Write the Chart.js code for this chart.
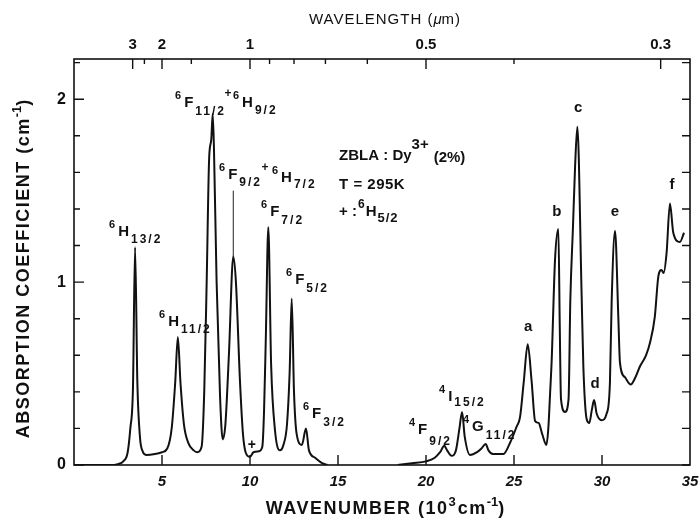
<!DOCTYPE html>
<html>
<head>
<meta charset="utf-8">
<script src="https://cdn.jsdelivr.net/npm/chart.js@4.4.1/dist/chart.umd.min.js"></script>
<style>
  html, body { margin: 0; padding: 0; background: #fff; }
  #wrap { width: 699px; height: 524px; }
</style>
</head>
<body>
<div id="wrap"><canvas id="spectrum" width="699" height="524"></canvas></div>
<script>
// ZBLA:Dy3+ (2%) absorption spectrum, T = 295 K
// wavenumber in 10^3 cm^-1, absorption coefficient in cm^-1 (null = gap in the record)
const wavenumber = [
    0, 1, 2, 2.5, 2.8, 3.05, 3.2, 3.35, 3.47, 3.6, 3.75, 3.9, 4.1, 4.6, 5.0, 5.3,
    5.55, 5.75, 5.9, 6.05, 6.25, 6.5, 6.8, 7.0, 7.25, 7.4, 7.54, 7.68, 7.8, 7.88,
    7.95, 8.1, 8.3, 8.45, 8.6, 8.8, 9.05, 9.2, 9.43, 9.6, 9.75, 10.0, 10.2, 10.5,
    10.7, 10.8, 10.9, 11.04, 11.2, 11.42, 11.7, 11.9, 12.1, 12.25, 12.37, 12.5,
    12.65, 12.95, 13.18, 13.35, 13.7, 14.1, 14.4,
    16.5,
    18.4, 19.2, 20.0, 20.5, 20.8, 21.04, 21.2, 21.45, 21.7, 21.9, 22.05, 22.2,
    22.5, 22.9, 23.15, 23.39, 23.55, 23.8, 24.4, 24.77, 25.15, 25.34, 25.55,
    25.78, 26.0, 26.2, 26.4, 26.6, 26.84, 26.95, 27.05, 27.14, 27.33, 27.52,
    27.6, 27.67, 27.9, 28.1, 28.2, 28.35, 28.47, 28.6, 28.84, 28.94, 29.13,
    29.28, 29.42, 29.55, 29.7, 29.98, 30.26, 30.45, 30.55, 30.74, 30.93, 31.02,
    31.3, 31.63, 31.9, 32.16, 32.5, 32.73, 33.0, 33.2, 33.38, 33.5, 33.67,
    33.86, 34.05, 34.43, 34.66
];
const absorption = [
    0, 0, 0, 0.005, 0.02, 0.07, 0.2, 0.42, 1.19, 0.45, 0.15, 0.075, 0.055, 0.06, 0.07, 0.09,
    0.2, 0.45, 0.70, 0.45, 0.22, 0.12, 0.08, 0.07, 0.10, 0.4, 1.01, 1.68, 1.78, 1.92,
    1.74, 1.01, 0.37, 0.14, 0.22, 0.6, 1.14, 1.0, 0.46, 0.17, 0.07, 0.045, 0.07, 0.075,
    0.10, 0.3, 0.7, 1.30, 0.55, 0.19, 0.08, 0.11, 0.22, 0.5, 0.91, 0.4,
    0.17, 0.11, 0.20, 0.08, 0.04, 0.01, 0,
    null,
    0, 0.01, 0.02, 0.04, 0.07, 0.105, 0.08, 0.05, 0.08, 0.2, 0.29, 0.155,
    0.055, 0.07, 0.09, 0.115, 0.08, 0.06, 0.06, 0.12, 0.21, 0.26, 0.45,
    0.66, 0.46, 0.24, 0.23, 0.17, 0.11, 0.2, 0.39, 0.57, 1.12, 1.29,
    0.76, 0.36, 0.29, 0.36, 0.9, 1.3, 1.63, 1.85, 0.94, 0.54, 0.25,
    0.23, 0.3, 0.355, 0.28, 0.245, 0.28, 0.45, 0.9, 1.28, 0.8, 0.56,
    0.48, 0.44, 0.48, 0.54, 0.6, 0.67, 0.81, 1.03, 1.066, 1.05, 1.16,
    1.43, 1.27, 1.22, 1.27
];

// thin marker line from the 6F9/2 + 6H7/2 peak up to its label
const markerX = [9.05, 9.05];
const markerY = [1.14, 1.50];

// top axis: wavelength in µm
const wavelengthTicks = [3, 2.5, 2, 1.5, 1, 0.9, 0.8, 0.7, 0.6, 0.5, 0.4, 0.3];
const wavelengthLabels = [3, 2, 1, 0.5, 0.3];

const FONT = '"Liberation Sans", Arial, sans-serif';

// term symbols: superscript, letter, subscript
const terms = [
    { sup: "6", main: "H", sub: "13/2", x: 1.99, y: 1.25, dy: 7 },
    { sup: "6", main: "F", sub: "11/2", x: 5.74, y: 1.96, dy: 8 },
    { sup: "6", main: "H", sub: "9/2", x: 9.03, y: 1.956, dy: 7 },
    { sup: "6", main: "F", sub: "9/2", x: 8.24, y: 1.563, dy: 7 },
    { sup: "6", main: "H", sub: "7/2", x: 11.25, y: 1.546, dy: 6 },
    { sup: "6", main: "F", sub: "7/2", x: 10.63, y: 1.36, dy: 8 },
    { sup: "6", main: "F", sub: "5/2", x: 12.05, y: 0.989, dy: 8 },
    { sup: "6", main: "H", sub: "11/2", x: 4.83, y: 0.76, dy: 7 },
    { sup: "6", main: "F", sub: "3/2", x: 13.01, y: 0.257, dy: 8 },
    { sup: "4", main: "F", sub: "9/2", x: 19.03, y: 0.169, dy: 11 },
    { sup: "4", main: "I", sub: "15/2", x: 20.74, y: 0.35, dy: 5 },
    { sup: "4", main: "G", sub: "11/2", x: 22.1, y: 0.186, dy: 8 }
];

// plain text marks, centred
const marks = [
    { t: "+", x: 8.75, y: 2.03, size: 12 },
    { t: "+", x: 10.85, y: 1.628, size: 12 },
    { t: "+", x: 10.11, y: 0.109, size: 14 },
    { t: "a", x: 25.8, y: 0.754, size: 15 },
    { t: "b", x: 27.44, y: 1.383, size: 15 },
    { t: "c", x: 28.64, y: 1.951, size: 15 },
    { t: "d", x: 29.6, y: 0.443, size: 15 },
    { t: "e", x: 30.74, y: 1.383, size: 15 },
    { t: "f", x: 33.98, y: 1.53, size: 15 }
];

function drawRich(ctx, parts, x, y, align) {
    let total = 0;
    parts.forEach(function (p) {
        ctx.font = p.font;
        ctx.letterSpacing = p.ls || "0px";
        p.w = ctx.measureText(p.t).width + (p.gap || 0);
        total += p.w;
    });
    let cx = align === "center" ? x - total / 2 : x;
    ctx.textAlign = "left";
    ctx.textBaseline = "alphabetic";
    parts.forEach(function (p) {
        ctx.font = p.font;
        ctx.letterSpacing = p.ls || "0px";
        ctx.fillText(p.t, cx, y + (p.dy || 0));
        cx += p.w;
    });
    ctx.letterSpacing = "0px";
}

const decorations = {
    id: "decorations",
    afterDraw(chart) {
        const ctx = chart.ctx;
        const area = chart.chartArea;
        const xs = chart.scales.x;
        const ys = chart.scales.y;
        const top = chart.scales.x2;
        ctx.save();
        ctx.strokeStyle = "#111";
        ctx.fillStyle = "#111";

        // frame
        ctx.lineWidth = 1.6;
        ctx.strokeRect(area.left, area.top, area.right - area.left, area.bottom - area.top);

        // inward tick marks
        ctx.lineWidth = 1.4;
        ctx.beginPath();
        ys.ticks.forEach(function (t) {
            const py = ys.getPixelForValue(t.value);
            const major = Math.abs(t.value - Math.round(t.value)) < 1e-6;
            ctx.moveTo(area.left, py);
            ctx.lineTo(area.left + (major ? 10 : 6), py);
            ctx.moveTo(area.right, py);
            ctx.lineTo(area.right - 8, py);
        });
        xs.ticks.forEach(function (t) {
            if (t.value <= xs.min || t.value >= xs.max) return;
            const px = xs.getPixelForValue(t.value);
            ctx.moveTo(px, area.bottom);
            ctx.lineTo(px, area.bottom - 10);
        });
        top.ticks.forEach(function (t) {
            const px = top.getPixelForValue(t.value);
            const w = 10 / t.value;
            const major = wavelengthLabels.some(function (l) { return Math.abs(l - w) < 1e-6; });
            ctx.moveTo(px, area.top);
            ctx.lineTo(px, area.top + (major ? 10 : 5));
        });
        ctx.stroke();

        // axis titles
        const bold = "bold 18px " + FONT;
        const boldSup = "bold 13px " + FONT;
        drawRich(ctx, [
            { t: "WAVENUMBER (10", font: bold, ls: "1.5px" },
            { t: "3", font: boldSup, dy: -8, gap: 2 },
            { t: "cm", font: bold, ls: "1.5px" },
            { t: "-1", font: boldSup, dy: -8 },
            { t: ")", font: bold }
        ], 385, 514, "center");

        drawRich(ctx, [
            { t: "WAVELENGTH (", font: "15px " + FONT, ls: "1px" },
            { t: "\u03bc", font: "italic 15px " + FONT },
            { t: "m)", font: "15px " + FONT, ls: "1px" }
        ], 385, 24, "center");

        ctx.save();
        ctx.translate(29, 269);
        ctx.rotate(-Math.PI / 2);
        drawRich(ctx, [
            { t: "ABSORPTION COEFFICIENT (cm", font: bold, ls: "1.5px" },
            { t: "-1", font: boldSup, dy: -8 },
            { t: ")", font: bold }
        ], 0, 0, "center");
        ctx.restore();

        // term labels
        terms.forEach(function (d) {
            const px = xs.getPixelForValue(d.x);
            const py = ys.getPixelForValue(d.y);
            drawRich(ctx, [
                { t: d.sup, font: "bold 11px " + FONT, dy: -8, gap: 3 },
                { t: d.main, font: "bold 15px " + FONT, gap: 2 },
                { t: d.sub, font: "bold 12px " + FONT, dy: d.dy, ls: "2px" }
            ], px, py, "left");
        });

        marks.forEach(function (m) {
            ctx.font = "bold " + m.size + "px " + FONT;
            ctx.textAlign = "center";
            ctx.textBaseline = "middle";
            ctx.fillText(m.t, xs.getPixelForValue(m.x), ys.getPixelForValue(m.y));
        });

        // sample description
        const bx = xs.getPixelForValue(15.06);
        const info = "bold 15px " + FONT;
        drawRich(ctx, [
            { t: "ZBLA : Dy", font: info },
            { t: "3+", font: "bold 15px " + FONT, dy: -11, gap: 5 },
            { t: "(2%)", font: info, dy: 2 }
        ], bx, ys.getPixelForValue(1.667), "left");
        drawRich(ctx, [{ t: "T = 295K", font: info, ls: "0.5px" }], bx, ys.getPixelForValue(1.508), "left");
        drawRich(ctx, [
            { t: "+ :", font: info, gap: 1 },
            { t: "6", font: "bold 12px " + FONT, dy: -8, gap: 1 },
            { t: "H", font: info, gap: 1 },
            { t: "5/2", font: "bold 13px " + FONT, dy: 6, ls: "1px" }
        ], bx, ys.getPixelForValue(1.36), "left");

        ctx.restore();
    }
};

const points = wavenumber.map(function (x, i) { return { x: x, y: absorption[i] }; });
const marker = markerX.map(function (x, i) { return { x: x, y: markerY[i] }; });

// keep the plot box fixed: no extra room for overhanging edge labels
function noEdgePadding(scale) {
    scale.paddingLeft = 0;
    scale.paddingRight = 0;
    scale.paddingTop = 0;
    scale.paddingBottom = 0;
}

new Chart(document.getElementById("spectrum"), {
    type: "line",
    data: {
        datasets: [
            {
                data: points,
                borderColor: "#111",
                borderWidth: 2,
                pointRadius: 0,
                cubicInterpolationMode: "monotone",
                spanGaps: false,
                fill: false
            },
            {
                data: marker,
                borderColor: "#222",
                borderWidth: 1,
                pointRadius: 0
            }
        ]
    },
    options: {
        responsive: false,
        animation: false,
        events: [],
        layout: { padding: { left: 0, right: 9, top: 0, bottom: 0 } },
        plugins: { legend: { display: false }, tooltip: { enabled: false } },
        scales: {
            x: {
                type: "linear",
                position: "bottom",
                min: 0,
                max: 35,
                afterFit(scale) { scale.height = 59; noEdgePadding(scale); },
                grid: { display: false, drawTicks: false },
                border: { display: false },
                ticks: {
                    stepSize: 5,
                    padding: 8,
                    color: "#111",
                    font: { family: FONT, size: 15, weight: "bold", style: "italic" },
                    maxRotation: 0,
                    callback: function (v) { return v === 0 ? "" : v; }
                }
            },
            x2: {
                type: "linear",
                position: "top",
                min: 0,
                max: 35,
                afterFit(scale) { scale.height = 59; noEdgePadding(scale); },
                afterBuildTicks(scale) {
                    scale.ticks = wavelengthTicks.map(function (w) { return { value: 10 / w }; });
                },
                grid: { display: false, drawTicks: false },
                border: { display: false },
                ticks: {
                    autoSkip: false,
                    padding: 5,
                    color: "#111",
                    maxRotation: 0,
                    font: { family: FONT, size: 15, weight: "bold" },
                    callback: function (v) {
                        const w = 10 / v;
                        const hit = wavelengthLabels.find(function (l) { return Math.abs(l - w) < 1e-6; });
                        return hit === undefined ? "" : String(hit);
                    }
                }
            },
            y: {
                type: "linear",
                min: 0,
                max: 2.22,
                afterFit(scale) { scale.width = 74; noEdgePadding(scale); },
                grid: { display: false, drawTicks: false },
                border: { display: false },
                ticks: {
                    stepSize: 0.2,
                    includeBounds: false,
                    padding: 8,
                    color: "#111",
                    font: { family: FONT, size: 16, weight: "bold" },
                    callback: function (v) {
                        return Math.abs(v - Math.round(v)) < 1e-6 ? Math.round(v) : "";
                    }
                }
            }
        }
    },
    plugins: [decorations]
});
</script>
</body>
</html>
